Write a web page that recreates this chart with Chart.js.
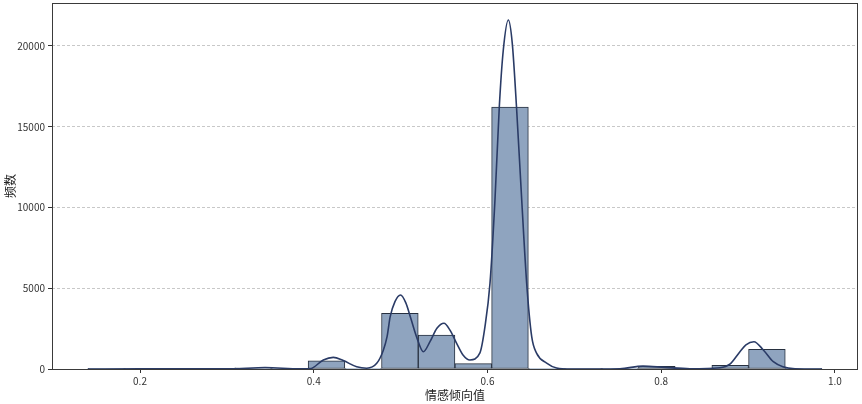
<!DOCTYPE html>
<html>
<head>
<meta charset="utf-8">
<script src="https://cdn.jsdelivr.net/npm/chart.js@4.4.1/dist/chart.umd.min.js"></script>
<style>
    html, body { margin: 0; padding: 0; background: #fff; }
    #wrap { width: 862px; height: 404px; }
</style>
</head>
<body>
<div id="wrap"><canvas id="histChart" width="862" height="404"></canvas></div>
<script>
// histogram bin edges (20 bins) and counts
const binEdges = [0.14, 0.1823, 0.2245, 0.2668, 0.309, 0.3513, 0.3935, 0.4358, 0.478, 0.5203, 0.5625,
    0.6048, 0.647, 0.6893, 0.7315, 0.7738, 0.816, 0.8583, 0.9005, 0.9428, 0.985];
const binCounts = [20, 10, 5, 30, 80, 40, 500, 10, 3450, 2100, 330, 16220, 10, 5, 20, 170, 40, 220, 1220, 15];

// KDE curve
const kdeX = [0.14, 0.2, 0.26, 0.307, 0.344, 0.384, 0.396, 0.411, 0.4225, 0.434, 0.4494, 0.461, 0.4725,
    0.480, 0.4844, 0.488, 0.4935, 0.4999, 0.506, 0.5117, 0.5183, 0.5261, 0.5338, 0.5418, 0.5499, 0.5568,
    0.5645, 0.5718, 0.5798, 0.5913, 0.5971, 0.6029, 0.6086, 0.6136, 0.6182, 0.624, 0.6285, 0.6336, 0.6394,
    0.6451, 0.6509, 0.6566, 0.6681, 0.6796, 0.695, 0.7525, 0.779, 0.804, 0.833, 0.8676, 0.879, 0.8906,
    0.8975, 0.9067, 0.9175, 0.929, 0.94, 0.954, 0.985];
const kdeY = [0, 5, 5, 10, 90, 10, 20, 560, 720, 520, 140, 50, 350,
    1150, 2000, 3240, 4170, 4580, 4090, 3140, 2000, 1070, 1690, 2520, 2830, 2410,
    1590, 870, 560, 1000, 2620, 5320, 10460, 16240, 19750, 21610, 20180, 16040, 10460,
    5320, 2000, 970, 370, 60, 0, 20, 180, 100, 20, 80, 300, 1070,
    1500, 1690, 1180, 450, 140, 20, 0];

const xTicks = [0.2, 0.4, 0.6, 0.8, 1.0];
const yTicks = [0, 5000, 10000, 15000, 20000];

const barData = binCounts.map((c, i) => ({ x: (binEdges[i] + binEdges[i + 1]) / 2, y: c }));
const lineData = kdeX.map((x, i) => ({ x: x, y: kdeY[i] }));

const fontFamily = '"Noto Sans CJK SC", "Noto Sans", sans-serif';

// full box around the plot, like matplotlib spines
const framePlugin = {
    id: 'frame',
    afterDraw(chart) {
        const { ctx, chartArea: a } = chart;
        ctx.save();
        ctx.strokeStyle = '#3a3a3a';
        ctx.lineWidth = 1;
        ctx.strokeRect(a.left + 0.5, a.top + 0.5, a.right - a.left - 1, a.bottom - a.top);
        ctx.restore();
    }
};

const ctx = document.getElementById('histChart').getContext('2d');
new Chart(ctx, {
    type: 'bar',
    data: {
        datasets: [{
            type: 'line',
            label: 'KDE',
            data: lineData,
            borderColor: '#2a3b66',
            borderWidth: 1.6,
            pointRadius: 0,
            cubicInterpolationMode: 'monotone',
            fill: false,
            order: 0
        }, {
            type: 'bar',
            label: '频数',
            data: barData,
            backgroundColor: '#8fa4bf',
            borderColor: '#27303f',
            borderWidth: 1,
            borderSkipped: false,
            barPercentage: 1,
            categoryPercentage: 1,
            order: 1
        }]
    },
    options: {
        responsive: false,
        animation: false,
        devicePixelRatio: 1,
        layout: { padding: { top: 3, right: 4, left: 0, bottom: 0 } },
        plugins: {
            legend: { display: false },
            tooltip: { enabled: false }
        },
        scales: {
            x: {
                type: 'linear',
                offset: false,
                min: 0.0987,
                max: 1.0265,
                afterBuildTicks: (s) => { s.ticks = xTicks.map(v => ({ value: v })); },
                afterFit: (s) => { s.height = 35; s.paddingLeft = 0; s.paddingRight = 0; },
                grid: { drawOnChartArea: false, offset: false, tickLength: 4, tickColor: '#333' },
                border: { display: false },
                ticks: {
                    padding: 2,
                    color: '#333',
                    font: { family: fontFamily, size: 10 },
                    callback: (v) => v.toFixed(1),
                    maxRotation: 0
                },
                title: {
                    display: true,
                    text: '情感倾向值',
                    color: '#222',
                    font: { family: fontFamily, size: 12 },
                    padding: { top: 0, bottom: 1 }
                }
            },
            y: {
                min: 0,
                max: 22660,
                afterBuildTicks: (s) => { s.ticks = yTicks.map(v => ({ value: v })); },
                afterFit: (s) => { s.width = 52; s.paddingTop = 0; s.paddingBottom = 0; },
                grid: { color: '#c8c8c8', tickLength: 4, tickColor: '#333' },
                border: { display: false, dash: [3, 2] },
                ticks: {
                    padding: 3,
                    color: '#333',
                    font: { family: fontFamily, size: 10 },
                    callback: (v) => String(v)
                },
                title: {
                    display: true,
                    text: '频数',
                    color: '#222',
                    font: { family: fontFamily, size: 12 },
                    padding: { top: 3, bottom: 0 }
                }
            }
        }
    },
    plugins: [framePlugin]
});
</script>
</body>
</html>
